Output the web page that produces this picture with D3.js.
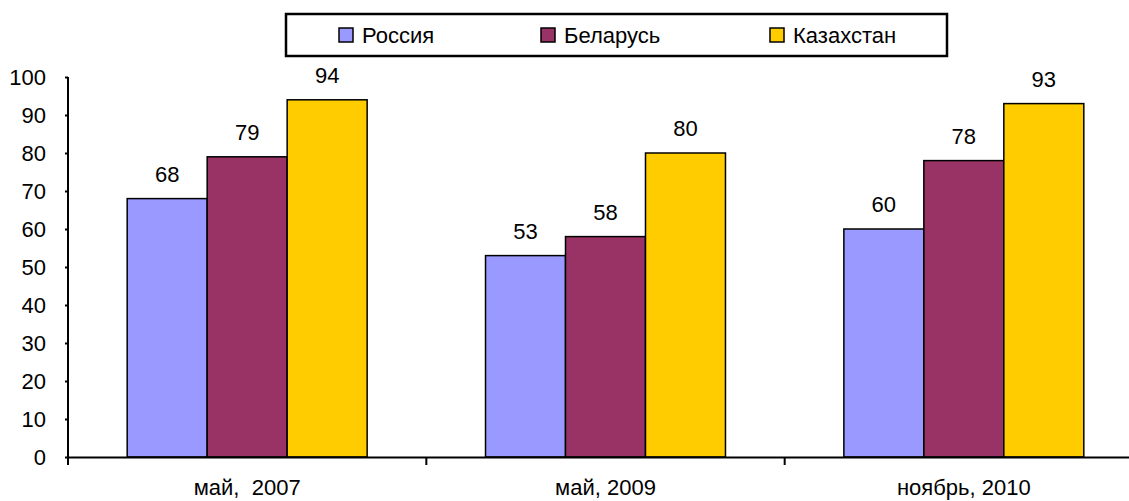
<!DOCTYPE html>
<html>
<head>
<meta charset="utf-8">
<script src="https://cdn.jsdelivr.net/npm/d3@7"></script>
<style>
  body { margin: 0; background: #fff; }
  svg text { font-family: "Liberation Sans", Arial, sans-serif; fill: #000; }
</style>
</head>
<body>
<div id="chart"></div>
<script>
// data
const categories = ['май,  2007', 'май, 2009', 'ноябрь, 2010']
const seriesNames = ['Россия', 'Беларусь', 'Казахстан']
const russia = [68, 53, 60]
const belarus = [79, 58, 78]
const kazakhstan = [94, 80, 93]
const yTicks = [0, 10, 20, 30, 40, 50, 60, 70, 80, 90, 100]

const colors = ['#9999ff', '#993366', '#ffcc00']
const seriesValues = [russia, belarus, kazakhstan]

const width = 1129
const height = 501
const margin = { top: 77, right: -14, bottom: 44, left: 68 }
const plotW = width - margin.left - margin.right
const plotH = height - margin.top - margin.bottom

const svg = d3.select('#chart').append('svg')
  .attr('width', width)
  .attr('height', height)

const g = svg.append('g')
  .attr('transform', 'translate(' + margin.left + ',' + margin.top + ')')

const x = d3.scaleBand()
  .domain(categories)
  .range([0, plotW])

const xSub = d3.scaleBand()
  .domain(seriesNames)
  .range([0, x.bandwidth()])
  .paddingOuter(0.74)

const y = d3.scaleLinear()
  .domain([0, 100])
  .range([plotH, 0])

// Y axis
const yAxis = d3.axisLeft(y)
  .tickValues(yTicks)
  .tickSize(8)
  .tickPadding(14)

const yg = g.append('g').call(yAxis)
yg.select('.domain').remove()
yg.selectAll('.tick line').attr('stroke', '#000').attr('stroke-width', 2).attr('x2', -3)
yg.selectAll('.tick text')
  .attr('font-size', 22)
  .attr('font-family', '"Liberation Sans", Arial, sans-serif')
  .attr('fill', '#000')

g.append('line')
  .attr('x1', 0).attr('x2', 0)
  .attr('y1', 0).attr('y2', plotH + 8)
  .attr('stroke', '#000').attr('stroke-width', 2)

// Bars
const groups = g.selectAll('.group')
  .data(categories)
  .enter()
  .append('g')
    .attr('class', 'group')
    .attr('transform', d => 'translate(' + x(d) + ',0)')

groups.selectAll('rect')
  .data((d, i) => seriesNames.map((s, j) => ({ s, j, v: seriesValues[j][i] })))
  .enter()
  .append('rect')
    .attr('x', d => xSub(d.s))
    .attr('y', d => y(d.v))
    .attr('width', xSub.bandwidth())
    .attr('height', d => plotH - y(d.v))
    .attr('fill', d => colors[d.j])
    .attr('stroke', '#000')
    .attr('stroke-width', 1.5)

groups.selectAll('.val')
  .data((d, i) => seriesNames.map((s, j) => ({ s, j, v: seriesValues[j][i] })))
  .enter()
  .append('text')
    .attr('class', 'val')
    .attr('x', d => xSub(d.s) + xSub.bandwidth() / 2)
    .attr('y', d => y(d.v) - 17)
    .attr('text-anchor', 'middle')
    .attr('font-size', 22)
    .text(d => d.v)

// X axis
const xAxis = d3.axisBottom(x)
  .tickSize(0)
  .tickPadding(22)

const xg = g.append('g')
  .attr('transform', 'translate(0,' + plotH + ')')
  .call(xAxis)
xg.select('.domain').attr('stroke', '#000').attr('stroke-width', 2)
xg.selectAll('.tick text')
  .attr('font-size', 22)
  .attr('font-family', '"Liberation Sans", Arial, sans-serif')
  .attr('fill', '#000')
  .style('white-space', 'pre')

// separator ticks between categories
xg.selectAll('.sep')
  .data(categories.slice(1))
  .enter()
  .append('line')
    .attr('x1', d => x(d)).attr('x2', d => x(d))
    .attr('y1', 0).attr('y2', 8)
    .attr('stroke', '#000').attr('stroke-width', 2)

// Legend
const legend = svg.append('g')
  .attr('transform', 'translate(286,14)')

legend.append('rect')
  .attr('width', 661)
  .attr('height', 42)
  .attr('fill', '#fff')
  .attr('stroke', '#000')
  .attr('stroke-width', 2.5)

const legendX = [53, 255, 484]
const item = legend.selectAll('.item')
  .data(seriesNames)
  .enter()
  .append('g')
    .attr('transform', (d, i) => 'translate(' + legendX[i] + ',21)')

item.append('rect')
  .attr('x', 0).attr('y', -7)
  .attr('width', 14).attr('height', 14)
  .attr('fill', (d, i) => colors[i])
  .attr('stroke', '#000')
  .attr('stroke-width', 1.5)

item.append('text')
  .attr('x', 23)
  .attr('dy', '0.36em')
  .attr('font-size', 22)
  .text(d => d)
</script>
</body>
</html>
